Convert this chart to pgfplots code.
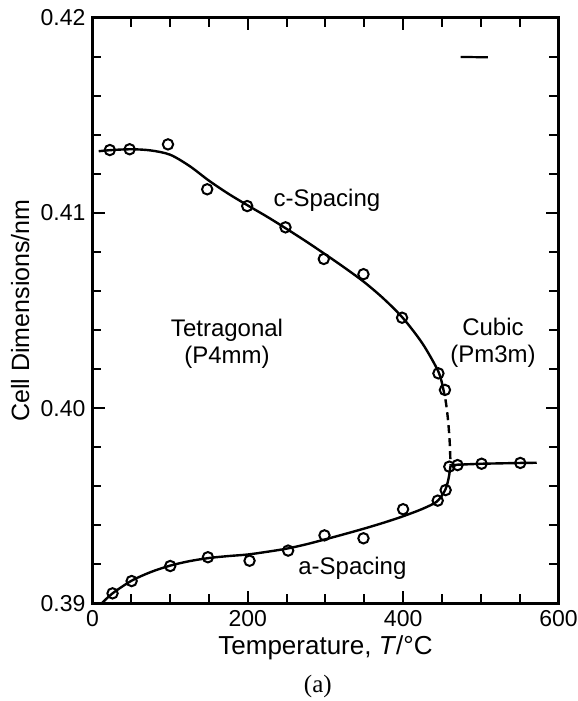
\documentclass[border=0pt]{standalone}
\usepackage{fontspec}
\setmainfont{Liberation Sans}
\newfontfamily\serifa{Liberation Serif}
\usepackage{pgfplots}
\pgfplotsset{compat=1.18}

\begin{document}
\begin{tikzpicture}[font=\fontsize{12}{14}\selectfont]
\begin{axis}[
    scale only axis,
    width=233pt, height=292.8pt,
    xmin=0, xmax=600, ymin=0.39, ymax=0.42,
    xtick={0,200,400,600}, minor x tick num=3,
    ytick={0.39,0.40,0.41,0.42}, minor y tick num=4,
    tick align=inside,
    major tick length=6pt, minor tick length=4.5pt,
    axis line style={line width=1.2pt},
    every tick/.style={black, line width=1pt},
    /pgf/number format/assume math mode=true,
    tick label style={font=\fontsize{11.5}{13}\selectfont},
    yticklabel style={/pgf/number format/.cd, fixed, precision=2, zerofill},
    xticklabel style={/pgf/number format/.cd, fixed},
    scaled y ticks=false,
    xlabel={Temperature, \textit{T}/°C},
    xlabel style={at={(axis description cs:0.5,-0.0763)}, anchor=center, font=\fontsize{13}{15}\selectfont},
    ylabel={Cell Dimensions/nm},
    ylabel style={at={(axis description cs:-0.155,0.5)}, anchor=center, font=\fontsize{12.5}{15}\selectfont},
    clip=false,
]
% c-spacing curve (tetragonal)
\addplot[line width=1.2pt, smooth] coordinates {
(8,0.41316) (25,0.41322) (50,0.41326) (75,0.41320) (100,0.41298) (125,0.41240)
(150,0.41165) (175,0.41098) (200,0.41038) (225,0.40980) (250,0.40918) (275,0.40854)
(300,0.40787) (325,0.40718) (350,0.40645) (375,0.40560) (400,0.40460) (425,0.40330)
(445,0.40190) (451,0.40110)};
% transition
\addplot[line width=1.2pt, dashed, dash pattern=on 4pt off 2.5pt, smooth] coordinates {
(451,0.40110) (455,0.40030) (458,0.39930) (460,0.39820) (461,0.39705)};
% a-spacing curve
\addplot[line width=1.2pt, smooth] coordinates {
(12,0.39000) (25.8,0.39051) (50,0.39115) (75,0.39160) (100,0.39193) (125,0.39216)
(150,0.39232) (175,0.39242) (200,0.39250) (225,0.39264) (250,0.39280) (275,0.39302)
(300,0.39328) (325,0.39355) (350,0.39383) (375,0.39413) (400,0.39446) (425,0.39484)
(443,0.39520) (452,0.39565) (456,0.39600) (459,0.39650) (461,0.39705)};
% cubic
\addplot[line width=1.2pt] coordinates {
(461,0.39705) (470,0.39710) (501,0.39715) (551,0.39719) (572,0.39720)};
% data points
\addplot[only marks, mark=o, mark size=2.6pt, mark options={fill=white, line width=1pt}] coordinates {
(22.3,0.41322) (47.8,0.41326) (97.2,0.41351) (147.7,0.41121) (199.2,0.41035)
(248.5,0.40926) (297.8,0.40764) (348.9,0.40686) (398.6,0.40463) (445.4,0.40178)
(453.8,0.40093)};
\addplot[only marks, mark=o, mark size=2.6pt, mark options={fill=white, line width=1pt}] coordinates {
(25.8,0.39051) (50.4,0.39114) (100.1,0.39191) (148.6,0.39236) (202.2,0.39218)
(251.9,0.39270) (298.7,0.39348) (348.9,0.39333) (399.9,0.39482) (444.5,0.39526)
(454.7,0.39580)};
\addplot[only marks, mark=o, mark size=2.6pt, mark options={fill=white, line width=1pt}] coordinates {
(459.4,0.39700) (470,0.39708) (501,0.39715) (550.8,0.39719)};
% labels
\node[anchor=base west] at (axis cs:224,0.41032) {c-Spacing};
\node[anchor=base west] at (axis cs:256,0.39145) {a-Spacing};
\node[anchor=base] at (axis cs:173.2,0.40366) {Tetragonal};
\node[anchor=base] at (axis cs:173.2,0.40229) {(P4mm)};
\node[anchor=base] at (axis cs:515.6,0.40372) {Cubic};
\node[anchor=base] at (axis cs:515.6,0.40236) {(Pm3m)};
\draw[line width=1.1pt] (axis cs:474,0.41799) -- (axis cs:509,0.41797);
\node[anchor=center, font=\serifa\fontsize{12.5}{15}\selectfont] at (axis description cs:0.4835,-0.1412) {(a)};
\end{axis}
\pgfresetboundingbox
\path ([shift={(-46.25pt,-48.85pt)}]current axis.south west) rectangle ([shift={(9.75pt,8.85pt)}]current axis.north east);
\end{tikzpicture}
\end{document}
